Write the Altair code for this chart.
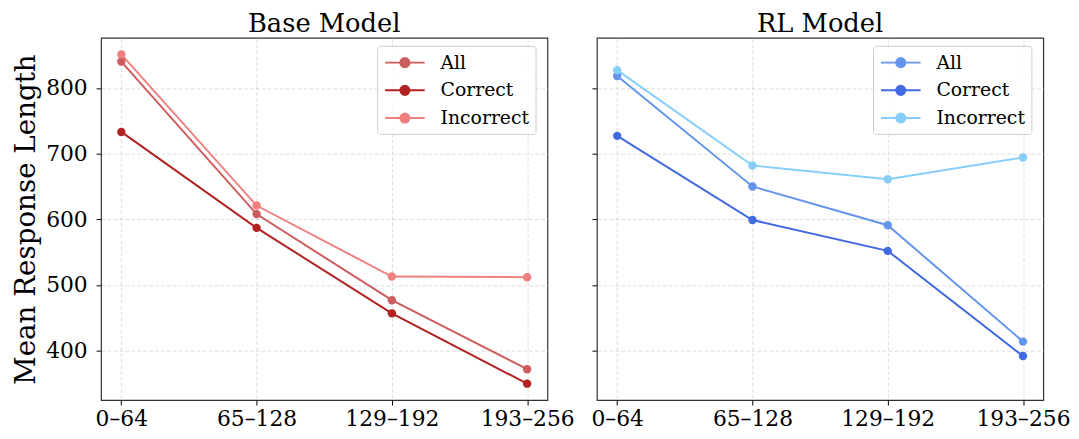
import altair as alt
import pandas as pd

bins = ["0–64", "65–128", "129–192", "193–256"]
series = ["All", "Correct", "Incorrect"]

base_all = [840, 608, 477, 372]
base_correct = [733, 587, 457, 350]
base_incorrect = [851, 621, 513, 512]

rl_all = [818, 650, 591, 414]
rl_correct = [727, 599, 552, 392]
rl_incorrect = [827, 682, 661, 694]

base_colors = ["#CD5C5C", "#B22222", "#F08080"]
rl_colors = ["#6495ED", "#4169E1", "#87CEFA"]

y_ticks = [400, 500, 600, 700, 800]
y_domain = [324.95, 876.05]

FONT = "DejaVu Serif"
SYMBOL = "M-0.9,0H3.1M0.64,0A0.46,0.46,0,1,1,1.56,0A0.46,0.46,0,1,1,0.64,0Z"


def make_df(a, c, i):
    rows = []
    for name, vals in zip(series, [a, c, i]):
        for b, v in zip(bins, vals):
            rows.append({"bin": b, "series": name, "value": v})
    return pd.DataFrame(rows)


def panel(title, df, colors, show_y):
    base = alt.Chart(df)
    x = alt.X("bin:N", sort=bins,
              scale=alt.Scale(type="point", padding=0.15),
              axis=alt.Axis(title=None, labelAngle=0, labelFontSize=22,
                            labelPadding=4, tickSize=5, grid=True))
    y = alt.Y("value:Q",
              scale=alt.Scale(domain=y_domain, nice=False, zero=False),
              axis=alt.Axis(values=y_ticks, labels=show_y, labelFontSize=22,
                            labelPadding=9, tickSize=5,
                            title="Mean Response Length" if show_y else None,
                            titleFontSize=28, titleFontWeight="normal",
                            titlePadding=5))
    color = alt.Color("series:N",
                      scale=alt.Scale(domain=series, range=colors),
                      legend=alt.Legend(title=None, orient="none",
                                        legendX=279, legendY=8,
                                        symbolType=SYMBOL, symbolSize=400,
                                        symbolStrokeWidth=2,
                                        labelFontSize=19, labelOffset=36,
                                        labelExpr="datum.label + ' '",
                                        rowPadding=7, padding=6,
                                        fillColor="rgba(255,255,255,0.8)",
                                        strokeColor="#cccccc",
                                        cornerRadius=3))
    line = base.mark_line(strokeWidth=2).encode(x=x, y=y, color=color)
    pts = base.mark_point(filled=True, size=72, opacity=1).encode(
        x=x, y=y, color=color)
    return alt.layer(line, pts).properties(
        width=451, height=366,
        title=alt.TitleParams(title, fontSize=26, fontWeight="normal",
                              font=FONT, offset=1))


left = panel("Base Model", make_df(base_all, base_correct, base_incorrect),
             base_colors, True)
right = panel("RL Model", make_df(rl_all, rl_correct, rl_incorrect),
              rl_colors, False)

chart = alt.hconcat(left, right, spacing=50, bounds="flush").resolve_scale(
    color="independent").configure(
    font=FONT, padding={"left": 4, "top": 0, "right": 0, "bottom": 0}
).configure_view(
    stroke="#333333", strokeWidth=1.2
).configure_axis(
    domain=False, tickColor="#000000", labelColor="#000000",
    titleColor="#000000", labelFont=FONT, titleFont=FONT,
    gridColor="#cccccc", gridDash=[4, 2], gridWidth=0.8, gridOpacity=0.8
).configure_legend(
    labelFont=FONT, labelColor="#000000"
)

chart.save("out.html", embed_options={"renderer": "svg", "actions": False})
